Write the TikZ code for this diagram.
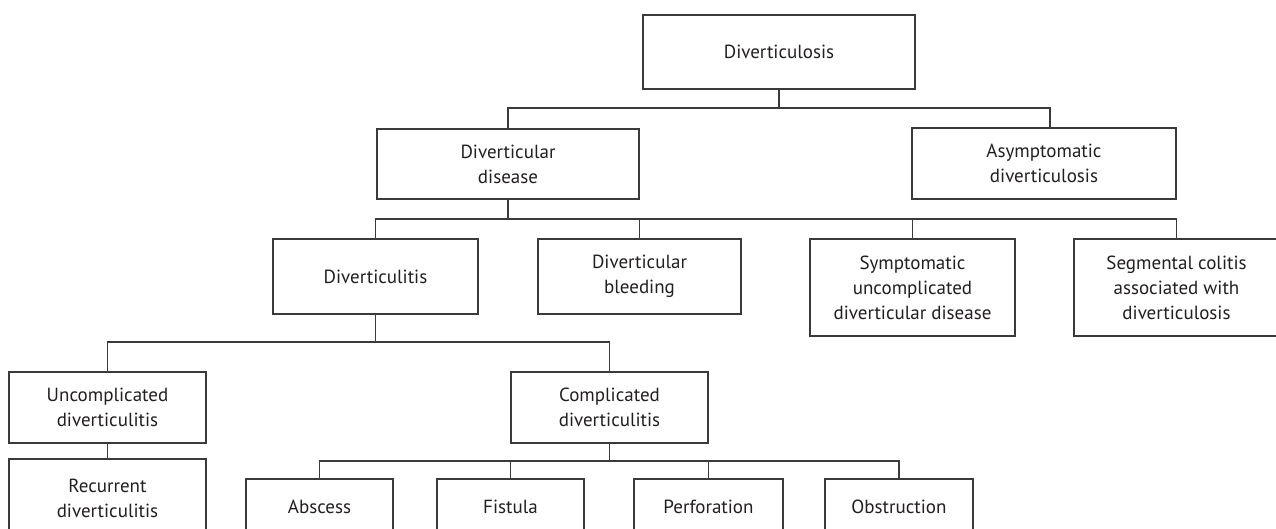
\documentclass[tikz,border=0pt]{standalone}
\usepackage{fontspec}
\setmainfont{PT Sans}
\definecolor{linec}{HTML}{3A3A3A}
\definecolor{textc}{HTML}{231F20}
\begin{document}
\begin{tikzpicture}[x=1pt,y=-1pt,
  box/.style={draw=linec, line width=1.2pt, rectangle, inner sep=0pt, align=center, text=textc, font=\fontsize{19}{25}\selectfont},
  conn/.style={draw=linec, line width=1.2pt}]
\path[use as bounding box] (0,0) rectangle (1276,528);
\clip (0,0) rectangle (1276,528);
\fill[white] (0,0) rectangle (1276,528);
% nodes
\node[box, minimum width=272pt, minimum height=74pt] (dosis) at (779,52) {Diverticulosis};
\node[box, minimum width=262pt, minimum height=70pt] (ddis) at (508,164) {Diverticular\\disease};
\node[box, minimum width=264pt, minimum height=71pt] (asym) at (1044,163.5) {Asymptomatic\\diverticulosis};
\node[box, minimum width=205pt, minimum height=75pt] (ditis) at (375.5,276.5) {Diverticulitis};
\node[box, minimum width=203pt, minimum height=75pt] (bleed) at (639.5,276.5) {Diverticular\\bleeding};
\node[box, minimum width=205pt, minimum height=97pt] (sympt) at (912.5,287.5) {Symptomatic\\uncomplicated\\diverticular disease};
\node[box, minimum width=205pt, minimum height=97pt] (segm) at (1176.5,287.5) {Segmental colitis\\associated with\\diverticulosis};
\node[box, minimum width=197pt, minimum height=71pt] (uncomp) at (107.5,407.5) {Uncomplicated\\diverticulitis};
\node[box, minimum width=197pt, minimum height=71pt] (comp) at (609.5,407.5) {Complicated\\diverticulitis};
\node[box, minimum width=197pt, minimum height=78pt] (recur) at (107.5,498) {Recurrent\\diverticulitis};
\node[box, minimum width=147pt, minimum height=56pt] (absc) at (319.5,507) {Abscess};
\node[box, minimum width=147pt, minimum height=56pt] (fist) at (510.5,507) {Fistula};
\node[box, minimum width=149pt, minimum height=56pt] (perf) at (708.5,507) {Perforation};
\node[box, minimum width=148pt, minimum height=56pt] (obst) at (899,507) {Obstruction};
% junctions
\coordinate (j1) at (779,108);
\coordinate (j2) at (508,219);
\coordinate (j3) at (375.5,342);
\coordinate (j4) at (609.5,461);
% connectors
\draw[conn] (dosis.south) -- (j1);
\draw[conn] (ddis.north) |- (j1);
\draw[conn] ([xshift=6pt]asym.north) |- (j1);
\draw[conn] (ddis.south) -- (j2);
\draw[conn] (ditis.north) |- (j2);
\draw[conn] (bleed.north) |- (j2);
\draw[conn] (sympt.north) |- (j2);
\draw[conn] (segm.north) |- (j2);
\draw[conn] (ditis.south) -- (j3);
\draw[conn] (uncomp.north) |- (j3);
\draw[conn] (comp.north) |- (j3);
\draw[conn] (uncomp.south) -- (recur.north);
\draw[conn] (comp.south) -- (j4);
\draw[conn] (absc.north) |- (j4);
\draw[conn] (fist.north) |- (j4);
\draw[conn] (perf.north) |- (j4);
\draw[conn] (obst.north) |- (j4);
\end{tikzpicture}
\end{document}
